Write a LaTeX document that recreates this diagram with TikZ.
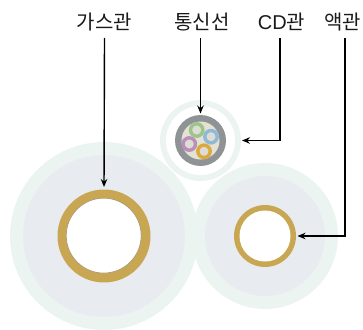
\documentclass[tikz,border=0pt]{standalone}
\usepackage{fontspec}
\newfontfamily\krfont{Noto Sans CJK KR}
\setmainfont{Liberation Sans}
\definecolor{halo}{HTML}{ECF4F1}
\definecolor{disc}{HTML}{E8ECF0}
\definecolor{brass}{HTML}{C9A752}
\definecolor{sheath}{HTML}{8F9396}
\definecolor{fill}{HTML}{E4E2D3}
\definecolor{core}{HTML}{DEDDD5}
\definecolor{tgreen}{HTML}{9DC589}
\definecolor{tblue}{HTML}{8FB9D9}
\definecolor{tpurple}{HTML}{B98FBC}
\definecolor{tyellow}{HTML}{DBA93C}
\tikzset{
  round/.style={circle,inner sep=0pt,outer sep=0pt},
  tube/.style={round,minimum size=12.4pt,line width=3.4pt,fill=core},
  lbl/.style={inner sep=0pt,outer sep=0pt,font=\fontsize{20}{22}\krfont,text=black!90,anchor=center},
  lead/.style={line width=1.4pt,black,-{Stealth[length=8pt,width=6.5pt]}}
}
\usetikzlibrary{arrows.meta,calc}
\begin{document}
\begin{tikzpicture}[x=1pt,y=-1pt]
\useasboundingbox (0,0) rectangle (363,329);
% gas pipe
\node[round,fill=halo,minimum size=188pt] (gashalo) at (104,236) {};
\node[round,fill=disc,minimum size=162pt] (gasdisc) at (104,236) {};
\node[round,fill=brass,minimum size=93pt] (gasring) at (104,236) {};
\node[round,fill=white,draw=brass!70!black!70,line width=.8pt,minimum size=75pt] (gasbore) at (103.7,235.6) {};
% liquid pipe
\node[round,fill=halo,minimum size=146pt] (liqhalo) at (265,236) {};
\node[round,fill=disc,minimum size=120pt] (liqdisc) at (265,236) {};
\node[round,fill=brass,minimum size=62pt] (liqring) at (265,236) {};
\node[round,fill=white,minimum size=51pt] (liqbore) at (265,236) {};
% CD pipe
\node[round,fill=halo,minimum size=81pt] (cdhalo) at (200.5,140.5) {};
\node[round,fill=white,minimum size=69pt] (cdbore) at (200.5,140.5) {};
\node[round,fill=sheath,minimum size=51pt] (cable) at (200.5,140.5) {};
\node[round,fill=fill,minimum size=38pt] (filler) at (200.5,140.5) {};
\node[tube,draw=tgreen] (t1) at (196.7,130) {};
\node[tube,draw=tblue] (t2) at (211,136.7) {};
\node[tube,draw=tpurple] (t3) at (189.3,144) {};
\node[tube,draw=tyellow] (t4) at (204,151.3) {};
% labels
\node[lbl] (lgas) at (104.5,22) {가스관};
\node[lbl] (lcom) at (202,22) {통신선};
\node[lbl] (lcd) at (281.5,22) {{\fontsize{20}{22}\selectfont\rmfamily CD}관};
\node[lbl] (lliq) at (342.5,22) {액관};
\coordinate (scd) at (280,38);
\coordinate (sliq) at (345,38);
% leaders
\draw[lead,shorten >=2.5pt] (lgas.south |- 0,38) -- (gasring.north);
\draw[lead,shorten >=1.5pt] (cable.north |- 0,38) -- (cable.north);
\draw[lead,shorten >=1pt] (scd) |- (cdhalo.east);
\draw[lead,shorten >=1.5pt] (sliq) |- (liqring.east);
\end{tikzpicture}
\end{document}
